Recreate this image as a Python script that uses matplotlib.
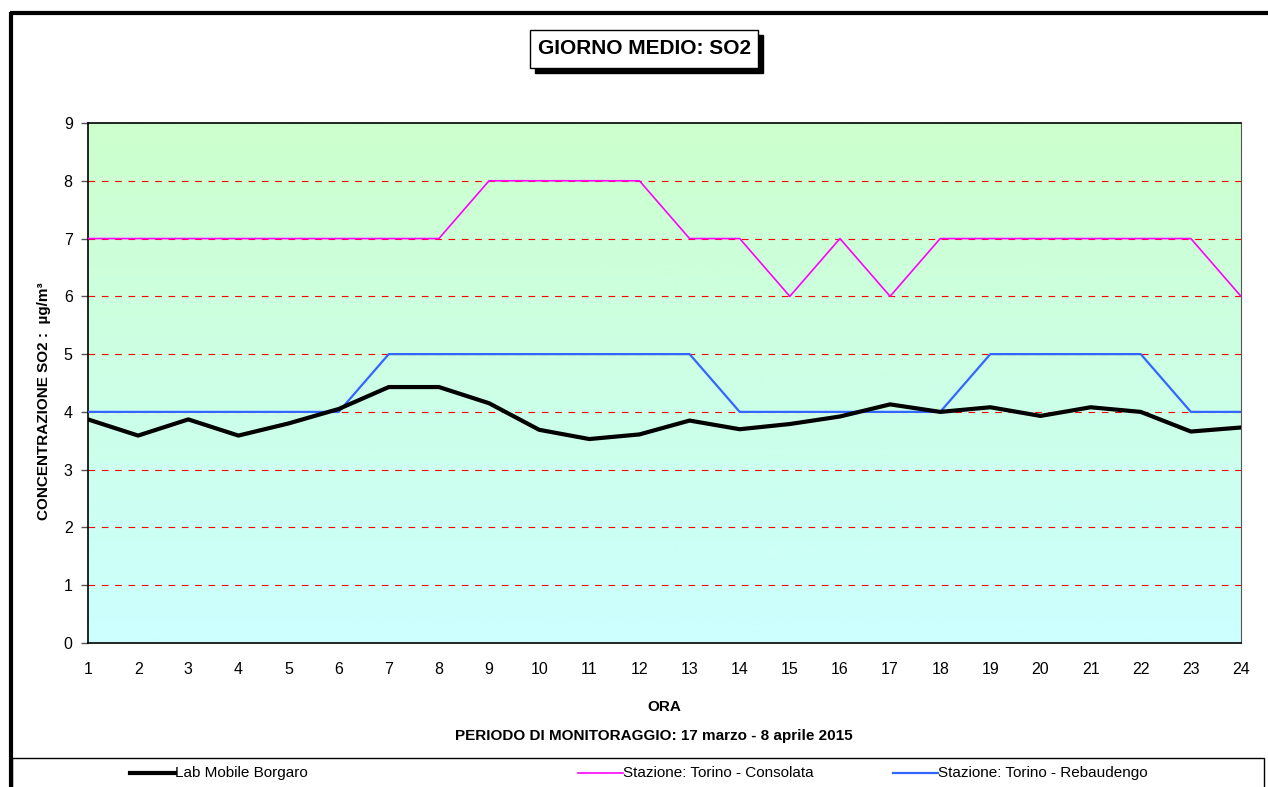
import numpy as np
import matplotlib
matplotlib.use('Agg')
import matplotlib.pyplot as plt
import matplotlib.patches as patches
from matplotlib.lines import Line2D
from matplotlib.colors import LinearSegmentedColormap

plt.rcParams['font.family'] = ['Liberation Sans', 'DejaVu Sans']

# hours of the day
ore = list(range(1, 25))

# mean-day SO2 concentration (ug/m3)
lab_mobile_borgaro = [3.87, 3.59, 3.87, 3.59, 3.80, 4.05, 4.43, 4.43, 4.15, 3.69, 3.53, 3.61,
                      3.85, 3.70, 3.79, 3.92, 4.13, 4.00, 4.08, 3.93, 4.08, 4.00, 3.66, 3.73]
torino_consolata = [7, 7, 7, 7, 7, 7, 7, 7, 8, 8, 8, 8, 7, 7, 6, 7, 6, 7, 7, 7, 7, 7, 7, 6]
torino_rebaudengo = [4, 4, 4, 4, 4, 4, 5, 5, 5, 5, 5, 5, 5, 4, 4, 4, 4, 4, 5, 5, 5, 5, 4, 4]

series_names = ['Lab Mobile Borgaro', 'Stazione: Torino - Consolata', 'Stazione: Torino - Rebaudengo']
y_ticks = list(range(0, 10))

W, H = 1268, 787
fig = plt.figure(figsize=(W / 100, H / 100), dpi=100)

# outer chart frame (only top and left edges visible)
fig.add_artist(Line2D([11 / W, 11 / W], [0, 1 - 12 / H], color='black', lw=3, solid_capstyle='butt'))
fig.add_artist(Line2D([10 / W, 1], [1 - 13 / H, 1 - 13 / H], color='black', lw=3, solid_capstyle='butt'))

ax = fig.add_axes([88 / W, 1 - 643 / H, (1241 - 88) / W, (643 - 123) / H])

# background gradient green -> cyan
cmap = LinearSegmentedColormap.from_list('bg', ['#CCFFFF', '#CCFFCC'])
grad = np.linspace(0, 1, 256).reshape(-1, 1)
ax.imshow(grad, aspect='auto', cmap=cmap, origin='lower', extent=[1, 24, 0, 9], zorder=0)

for v in y_ticks[1:-1]:
    ax.axhline(v, color='#FF0000', lw=0.8, dashes=(6, 6), zorder=1)

ax.plot(ore, torino_rebaudengo, color='#3366FF', lw=1.6, zorder=3)
ax.plot(ore, torino_consolata, color='#FF00FF', lw=1.2, zorder=3)
ax.plot(ore, lab_mobile_borgaro, color='black', lw=3, zorder=4)

ax.set_xlim(1, 24)
ax.set_ylim(0, 9)
ax.set_xticks(ore)
ax.set_yticks(y_ticks)
ax.tick_params(axis='x', length=0, labelsize=11.5, pad=14)
ax.tick_params(axis='y', length=5, width=1, color='#555555', labelsize=11.5, pad=6)
for side in ['left', 'bottom', 'top']:
    ax.spines[side].set_color('black')
    ax.spines[side].set_linewidth(1.2)
ax.spines['right'].set_color('#555555')

ax.set_ylabel('CONCENTRAZIONE SO2 :  µg/m³', fontsize=11, fontweight='bold')
ax.yaxis.set_label_coords(-0.032, 0.465)

fig.text(664 / W, 1 - 707 / H, 'ORA', ha='center', va='center', fontsize=11, fontweight='bold')
fig.text(654 / W, 1 - 736 / H, 'PERIODO DI MONITORAGGIO: 17 marzo - 8 aprile 2015',
         ha='center', va='center', fontsize=11, fontweight='bold')

# title box with shadow
fig.add_artist(patches.Rectangle((535 / W, 1 - 73 / H), 228 / W, 38 / H, transform=fig.transFigure,
                                 facecolor='black', edgecolor='black'))
fig.add_artist(patches.Rectangle((530 / W, 1 - 68 / H), 228 / W, 38 / H, transform=fig.transFigure,
                                 facecolor='white', edgecolor='black', lw=1))
fig.text(645 / W, 1 - 49 / H, 'GIORNO MEDIO: SO2', ha='center', va='center', fontsize=15, fontweight='bold')

# legend box
fig.add_artist(patches.Rectangle((12 / W, -5 / H), 1252 / W, (787 - 758 + 5) / H, transform=fig.transFigure,
                                 facecolor='white', edgecolor='black', lw=1))
leg_styles = [('black', 3), ('#FF00FF', 1.2), ('#3366FF', 1.6)]
leg_x = [130, 578, 893]
for name, (col, lw), x0 in zip(series_names, leg_styles, leg_x):
    y = 1 - 773 / H
    fig.add_artist(Line2D([x0 / W, (x0 + 45) / W], [y, y], color=col, lw=lw))
    fig.text((x0 + 45) / W, y, name, ha='left', va='center', fontsize=11)

fig.savefig('out.png', dpi=100)
